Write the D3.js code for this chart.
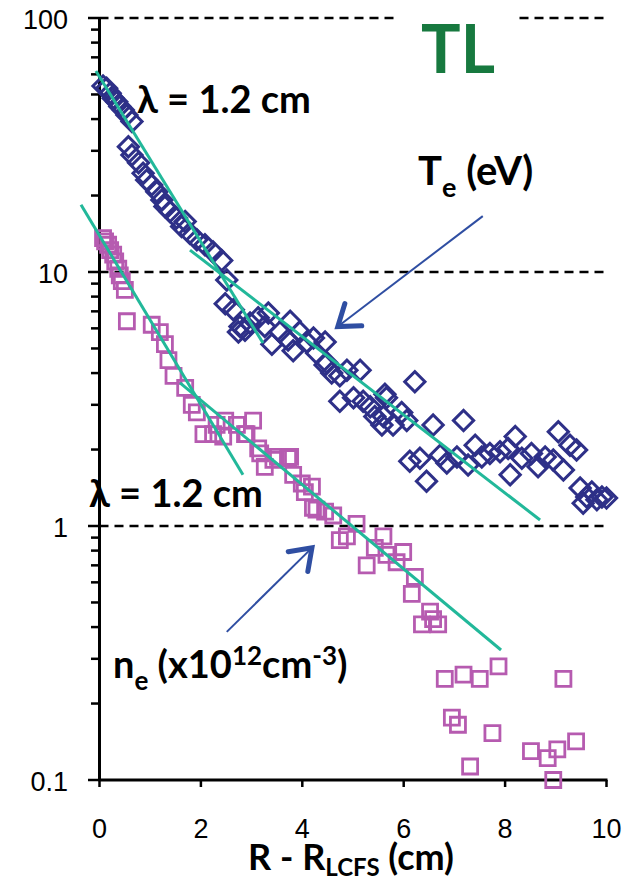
<!DOCTYPE html>
<html>
<head>
<meta charset="utf-8">
<script src="https://cdn.jsdelivr.net/npm/d3@7"></script>
<style>
  html, body { margin: 0; padding: 0; background: #fff; }
  .tick-label { font-family: "Liberation Sans", Arial, sans-serif; font-size: 27px; fill: #000; }
  .note { font-family: Lato, "Open Sans", sans-serif; font-weight: bold; fill: #000; }
</style>
</head>
<body>
<div id="chart"></div>
<script>
// ---- data ----
const teX = [0.07,0.14,0.21,0.27,0.34,0.40,0.47,0.54,0.64,0.57,0.64,0.77,0.86,0.93,1.03,1.13,1.23,1.29,1.39,1.52,1.69,1.62,1.78,1.92,2.08,2.24,2.41,2.51,2.48,2.64,2.77,2.87,2.74,2.97,3.13,3.33,3.26,3.40,3.56,3.76,3.72,3.82,3.95,4.09,4.22,4.45,4.28,4.45,4.58,4.74,4.88,5.14,4.74,5.01,5.20,5.34,5.43,5.60,5.66,5.57,5.79,5.96,6.06,6.22,6.58,7.18,6.12,6.32,6.45,6.72,6.85,7.05,7.27,7.41,7.54,7.70,7.90,8.06,8.20,8.10,8.33,8.52,8.65,8.79,8.95,9.05,9.15,9.28,9.41,9.48,9.61,9.71,9.81,9.91,10.0,9.54,4.48,5.63];
const teY = [54.0,52.9,50.5,48.3,46.8,44.8,43.4,41.5,39.1,31.1,28.9,26.9,24.5,23.0,22.0,20.7,19.2,18.1,17.3,16.3,15.8,15.1,14.2,13.4,12.8,12.0,11.1,9.3,7.5,7.1,6.1,5.9,5.8,6.3,6.6,6.9,6.1,5.2,5.8,6.4,5.4,4.9,5.8,5.3,5.5,5.3,4.8,4.3,4.0,3.9,4.1,4.1,3.1,3.2,3.1,2.95,2.7,2.7,3.2,2.5,2.5,2.8,2.6,3.7,2.5,2.6,1.8,1.85,1.5,1.9,1.77,1.87,1.74,2.08,1.87,1.93,1.96,2.02,2.25,1.59,1.85,1.93,1.71,1.87,1.82,2.35,1.66,2.08,1.99,1.41,1.30,1.36,1.27,1.30,1.29,1.23,4.4,3.3];

const neX = [0.07,0.11,0.17,0.21,0.27,0.31,0.37,0.40,0.44,0.50,0.54,1.03,1.19,1.29,1.36,1.46,1.69,1.82,1.92,2.05,2.24,2.31,2.48,2.71,2.87,3.03,2.44,2.90,3.13,3.17,3.26,3.43,3.52,3.72,3.76,3.82,3.99,4.19,4.05,4.21,4.28,4.45,4.61,4.74,4.88,5.07,5.27,5.43,5.60,5.66,5.86,5.99,6.22,6.16,6.36,6.52,6.68,6.58,6.81,7.18,7.50,7.87,9.15,6.95,7.07,7.75,7.31,8.51,8.84,9.03,9.40,8.95];
const neY = [13.6,13.2,12.8,12.2,11.7,11.0,10.3,9.7,9.2,8.5,6.4,6.2,5.8,5.2,4.5,3.9,3.5,3.0,2.8,2.3,2.3,2.5,2.6,2.5,2.3,2.6,2.25,2.3,2.02,1.93,1.71,1.82,1.87,1.85,1.87,1.59,1.47,1.43,1.36,1.18,1.16,1.14,1.10,0.88,0.91,1.02,0.70,0.82,0.91,0.77,0.72,0.79,0.63,0.54,0.41,0.46,0.41,0.43,0.25,0.26,0.25,0.28,0.25,0.176,0.165,0.153,0.113,0.130,0.122,0.132,0.142,0.100];

// exponential fit segments (endpoints)
const fitTe1 = [[-0.07, 61.8], [3.225, 5.25]];
const fitTe2 = [[1.785, 12.2], [8.69, 1.056]];
const fitNe1 = [[-0.365, 18.4], [2.83, 1.59]];
const fitNe2 = [[1.588, 3.66], [7.92, 0.325]];

const xTicks = [0, 2, 4, 6, 8, 10];
const yMajor = [0.1, 1, 10, 100];
const yLabels = ["0.1", "1", "10", "100"];

// ---- layout ----
const fullW = 627, fullH = 884;
const x = d3.scaleLinear().domain([0, 10]).range([99.5, 606.5]);
const y = d3.scaleLog().domain([0.1, 100]).range([780, 18]);

const teColour = "#2e3088";
const neColour = "#b65bb0";
const fitColour = "#22b89a";
const arrowColour = "#2f4ea2";

const svg = d3.select("#chart").append("svg")
  .attr("width", fullW).attr("height", fullH)
  .attr("viewBox", `0 0 ${fullW} ${fullH}`);

// dashed decade lines
svg.append("g").selectAll("line")
  .data([1, 10, 100]).join("line")
  .attr("x1", x(0)).attr("x2", x(10))
  .attr("y1", d => y(d)).attr("y2", d => y(d))
  .attr("stroke", "#000").attr("stroke-width", 2.5)
  .attr("stroke-dasharray", "9,6");

// TL tag with white box over the top grid line
svg.append("rect").attr("x", 399).attr("y", 8).attr("width", 118).attr("height", 72).attr("fill", "#fff");
svg.append("text").attr("class", "note")
  .attr("x", 458).attr("y", 73).attr("text-anchor", "middle")
  .style("font-size", "66px").style("fill", "#17793f")
  .text("TL");

// y minor + major ticks
const minor = [];
[0.1, 1, 10].forEach(d => { for (let k = 2; k <= 9; k++) minor.push(d * k); });
svg.append("g").selectAll("line").data(minor).join("line")
  .attr("x1", 91).attr("x2", x(0))
  .attr("y1", d => y(d)).attr("y2", d => y(d))
  .attr("stroke", "#000").attr("stroke-width", 2.5);
svg.append("g").selectAll("line").data(yMajor).join("line")
  .attr("x1", 88).attr("x2", x(0))
  .attr("y1", d => y(d)).attr("y2", d => y(d))
  .attr("stroke", "#000").attr("stroke-width", 2.5);

// y tick labels
svg.append("g").selectAll("text").data(yMajor).join("text")
  .attr("class", "tick-label")
  .attr("x", 68).attr("y", d => y(d) + 11)
  .attr("text-anchor", "end")
  .text((d, i) => yLabels[i]);

// x ticks + labels
svg.append("g").selectAll("line").data(xTicks).join("line")
  .attr("x1", d => x(d)).attr("x2", d => x(d))
  .attr("y1", 780).attr("y2", 787)
  .attr("stroke", "#000").attr("stroke-width", 2.5);
svg.append("g").selectAll("text").data(xTicks).join("text")
  .attr("class", "tick-label")
  .attr("x", d => x(d)).attr("y", 838)
  .attr("text-anchor", "middle")
  .text(d => d);

// axes lines
svg.append("line").attr("x1", x(0)).attr("x2", x(0)).attr("y1", 17).attr("y2", 781)
  .attr("stroke", "#000").attr("stroke-width", 3);
svg.append("line").attr("x1", x(0) - 1).attr("x2", x(10) + 1).attr("y1", 780).attr("y2", 780)
  .attr("stroke", "#000").attr("stroke-width", 3);

// markers
const sq = d3.symbol().type(d3.symbolSquare).size(225);
svg.append("g").selectAll("path")
  .data(d3.zip(neX, neY)).join("path")
  .attr("d", sq)
  .attr("transform", d => `translate(${x(d[0])},${y(d[1])})`)
  .attr("fill", "none").attr("stroke", neColour).attr("stroke-width", 2.8);

const dia = d3.symbol().type(d3.symbolSquare).size(205);
svg.append("g").selectAll("path")
  .data(d3.zip(teX, teY)).join("path")
  .attr("d", dia)
  .attr("transform", d => `translate(${x(d[0])},${y(d[1])}) rotate(45)`)
  .attr("fill", "none").attr("stroke", teColour).attr("stroke-width", 3);

// fit lines
const line = d3.line().x(d => x(d[0])).y(d => y(d[1]));
svg.append("g").selectAll("path")
  .data([fitTe1, fitTe2, fitNe1, fitNe2]).join("path")
  .attr("d", line)
  .attr("fill", "none").attr("stroke", fitColour).attr("stroke-width", 3);

// arrows
function arrow(from, to) {
  const x0 = x(from[0]), y0 = y(from[1]), x1 = x(to[0]), y1 = y(to[1]);
  const a = Math.atan2(y0 - y1, x0 - x1);
  const L = 24, w = 0.62;
  svg.append("line").attr("x1", x0).attr("y1", y0).attr("x2", x1).attr("y2", y1)
    .attr("stroke", arrowColour).attr("stroke-width", 2);
  const p1 = [x1 + L * Math.cos(a + w), y1 + L * Math.sin(a + w)];
  const p2 = [x1 + L * Math.cos(a - w), y1 + L * Math.sin(a - w)];
  svg.append("path").attr("d", `M${p1}L${x1},${y1}L${p2}`)
    .attr("fill", "none").attr("stroke", arrowColour).attr("stroke-width", 5)
    .attr("stroke-linecap", "round").attr("stroke-linejoin", "miter");
}
arrow([7.56, 16.6], [4.70, 6.1]);
arrow([2.51, 0.383], [4.19, 0.82]);

// annotations
svg.append("text").attr("class", "note").style("font-size", "38px")
  .attr("x", 137).attr("y", 113).text("λ = 1.2 cm");
svg.append("text").attr("class", "note").style("font-size", "38px")
  .attr("x", 89).attr("y", 507).text("λ = 1.2 cm");

const te = svg.append("text").attr("class", "note").style("font-size", "40px")
  .attr("x", 418).attr("y", 185);
te.append("tspan").text("T");
te.append("tspan").attr("dy", 12).style("font-size", "27px").text("e");
te.append("tspan").attr("dy", -12).text(" (eV)");

const ne = svg.append("text").attr("class", "note").style("font-size", "38px")
  .attr("x", 113).attr("y", 678);
ne.append("tspan").text("n");
ne.append("tspan").attr("dy", 12).style("font-size", "26px").text("e");
ne.append("tspan").attr("dy", -12).text(" (x10");
ne.append("tspan").attr("dy", -13).style("font-size", "26px").text("12");
ne.append("tspan").attr("dy", 13).text("cm");
ne.append("tspan").attr("dy", -13).style("font-size", "26px").text("-3");
ne.append("tspan").attr("dy", 13).text(")");

// x axis title
const xt = svg.append("text").attr("class", "note").style("font-size", "36px")
  .attr("x", 351).attr("y", 870).attr("text-anchor", "middle");
xt.append("tspan").text("R - R");
xt.append("tspan").attr("dy", 6).style("font-size", "24px").text("LCFS");
xt.append("tspan").attr("dy", -6).text(" (cm)");
</script>
</body>
</html>
